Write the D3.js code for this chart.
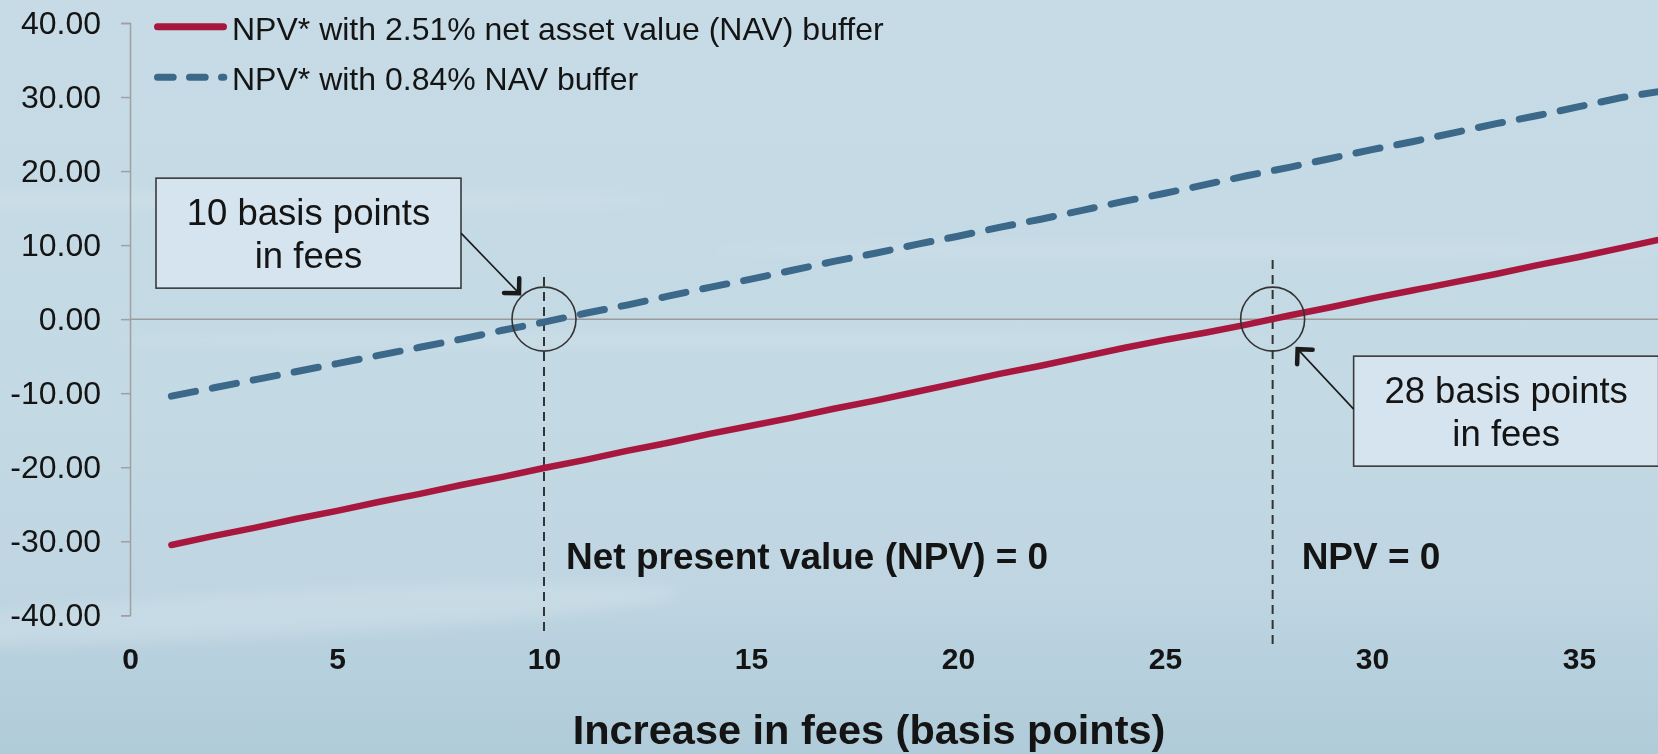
<!DOCTYPE html>
<html>
<head>
<meta charset="utf-8">
<script src="https://cdn.jsdelivr.net/npm/d3@7"></script>
<style>
body { margin: 0; overflow: hidden; }
svg { display: block; }
text { font-family: "Liberation Sans", Arial, sans-serif; fill: #141414; }
</style>
</head>
<body>
<svg width="1658" height="754"></svg>
<script>
// fee increase in basis points
var fees = [1, 2, 3, 4, 5, 6, 7, 8, 9, 10, 11, 12, 13, 14, 15, 16, 17, 18, 19,
    20, 21, 22, 23, 24, 25, 26, 27, 28, 29, 30, 31, 32, 33, 34, 35, 36, 37];

// NPV* with 2.51% NAV buffer
var npvHigh = [-30.5, -29.3, -28.2, -27.0, -25.9, -24.7, -23.6, -22.4, -21.3, -20.1,
    -19.0, -17.8, -16.7, -15.5, -14.4, -13.3, -12.1, -11.0, -9.8, -8.6,
    -7.4, -6.3, -5.1, -3.9, -2.8, -1.8, -0.7, 0.5, 1.6, 2.8,
    3.9, 5.0, 6.1, 7.3, 8.4, 9.6, 10.8];

// NPV* with 0.84% NAV buffer
var npvLow = [-10.4, -9.3, -8.2, -7.1, -6.0, -4.9, -3.8, -2.7, -1.5, -0.4,
    0.8, 1.9, 3.1, 4.3, 5.4, 6.6, 7.8, 8.9, 10.1, 11.2,
    12.4, 13.5, 14.7, 15.9, 17.0, 18.2, 19.4, 20.5, 21.7, 22.9,
    24.0, 25.2, 26.4, 27.5, 28.7, 29.9, 30.8];

var seriesNames = ['NPV* with 2.51% net asset value (NAV) buffer', 'NPV* with 0.84% NAV buffer'];
var xTicks = [0, 5, 10, 15, 20, 25, 30, 35];
var yTicks = [-40, -30, -20, -10, 0, 10, 20, 30, 40];
var breakEven = [10, 27.6];
var breakEvenLabels = ['Net present value (NPV) = 0', 'NPV = 0'];
var calloutText = [['10 basis points', 'in fees'], ['28 basis points', 'in fees']];

var svg = d3.select('svg');
var W = 1658, H = 754;

var x = d3.scaleLinear().domain([0, 40]).range([130, 1786]);
var y = d3.scaleLinear().domain([-40, 40]).range([615.3, 23]);

// background
var defs = svg.append('defs');
var grad = defs.append('linearGradient').attr('id', 'bg')
    .attr('x1', 0).attr('y1', 0).attr('x2', 0).attr('y2', 1);
grad.append('stop').attr('offset', '0%').attr('stop-color', '#c6dbe6');
grad.append('stop').attr('offset', '55%').attr('stop-color', '#c3d9e4');
grad.append('stop').attr('offset', '78%').attr('stop-color', '#bfd6e2');
grad.append('stop').attr('offset', '88%').attr('stop-color', '#b7d0dd');
grad.append('stop').attr('offset', '100%').attr('stop-color', '#b0cbd9');

defs.append('filter').attr('id', 'blur')
    .append('feGaussianBlur').attr('stdDeviation', 7);

svg.append('rect').attr('width', W).attr('height', H).attr('fill', 'url(#bg)');

var streaks = svg.append('g').attr('filter', 'url(#blur)');
streaks.append('ellipse').attr('cx', 250).attr('cy', 200).attr('rx', 420).attr('ry', 7)
    .attr('fill', '#ffffff').attr('opacity', 0.18);
streaks.append('ellipse').attr('cx', 700).attr('cy', 340).attr('rx', 600).attr('ry', 6)
    .attr('fill', '#ffffff').attr('opacity', 0.15);
streaks.append('ellipse').attr('cx', 260).attr('cy', 615).attr('rx', 420).attr('ry', 22)
    .attr('fill', '#ffffff').attr('opacity', 0.16)
    .attr('transform', 'rotate(-3 260 615)');
streaks.append('ellipse').attr('cx', 1200).attr('cy', 250).attr('rx', 500).attr('ry', 8)
    .attr('fill', '#ffffff').attr('opacity', 0.12);

// zero line
svg.append('line')
    .attr('x1', x(0)).attr('x2', W)
    .attr('y1', y(0)).attr('y2', y(0))
    .attr('stroke', '#9a9a9a').attr('stroke-width', 1.5);

// y axis
var yAxis = svg.append('g')
    .attr('transform', 'translate(' + x(0) + ',0)')
    .call(d3.axisLeft(y).tickValues(yTicks).tickSize(9).tickPadding(20)
        .tickFormat(function(d) { return d.toFixed(2); }));
yAxis.select('.domain').attr('stroke', '#a0a0a0').attr('stroke-width', 1.5);
yAxis.selectAll('.tick line').attr('stroke', '#a0a0a0').attr('stroke-width', 1.5);
yAxis.selectAll('.tick text')
    .style('font-family', '"Liberation Sans", Arial, sans-serif')
    .style('font-size', '32px').attr('fill', '#141414');

// x axis labels
var xAxis = svg.append('g')
    .attr('transform', 'translate(0,' + y(-40) + ')')
    .call(d3.axisBottom(x).tickValues(xTicks).tickSize(0));
xAxis.select('.domain').remove();
xAxis.selectAll('.tick text')
    .attr('y', 54).attr('dy', null)
    .style('font-family', '"Liberation Sans", Arial, sans-serif')
    .style('font-size', '30px').style('font-weight', 'bold').attr('fill', '#141414');

svg.append('text')
    .attr('x', 869).attr('y', 744)
    .attr('text-anchor', 'middle')
    .style('font-size', '41.5px').style('font-weight', 'bold')
    .text('Increase in fees (basis points)');

// vertical break-even lines
svg.selectAll('.be')
    .data(breakEven)
    .enter()
    .append('line')
    .attr('class', 'be')
    .attr('x1', function(d) { return x(d); })
    .attr('x2', function(d) { return x(d); })
    .attr('y1', function(d, i) { return i == 0 ? 277 : 260; })
    .attr('y2', function(d, i) { return i == 0 ? 633 : 650; })
    .attr('stroke', '#333333')
    .attr('stroke-width', 2)
    .attr('stroke-dasharray', '9,6');

svg.selectAll('.belabel')
    .data(breakEven)
    .enter()
    .append('text')
    .attr('class', 'belabel')
    .attr('x', function(d, i) { return x(d) + (i == 0 ? 22 : 29); })
    .attr('y', 569)
    .style('font-size', '37px').style('font-weight', 'bold')
    .text(function(d, i) { return breakEvenLabels[i]; });

// series lines
var line = d3.line()
    .x(function(d) { return x(d[0]); })
    .y(function(d) { return y(d[1]); });

svg.append('path')
    .datum(fees.map(function(f, i) { return [f, npvHigh[i]]; }))
    .attr('d', line)
    .attr('fill', 'none')
    .attr('stroke', '#a8173e')
    .attr('stroke-width', 6.5)
    .attr('stroke-linejoin', 'round')
    .attr('stroke-linecap', 'round');

svg.append('path')
    .datum(fees.map(function(f, i) { return [f, npvLow[i]]; }))
    .attr('d', line)
    .attr('fill', 'none')
    .attr('stroke', '#3c698a')
    .attr('stroke-width', 7)
    .attr('stroke-dasharray', '24.5,17.2')
    .attr('stroke-linecap', 'round');

// circles around the crossing points
svg.selectAll('.ring')
    .data(breakEven)
    .enter()
    .append('circle')
    .attr('class', 'ring')
    .attr('cx', function(d) { return x(d); })
    .attr('cy', y(0))
    .attr('r', 32)
    .attr('fill', 'none')
    .attr('stroke', '#333333')
    .attr('stroke-width', 1.6);

// callout boxes with arrows
var boxW = 305, boxH = 110;
var callouts = [
    { bx: x(breakEven[0]) - 388, by: y(0) - 141, from: [0, 55], tipDx: -25, tipDy: -26 },
    { bx: x(breakEven[1]) + 81, by: y(0) + 37, from: [-boxW, 53], tipDx: 25, tipDy: 30 }
];

callouts.forEach(function(c, i) {
    var g = svg.append('g');
    g.append('rect')
        .attr('x', c.bx).attr('y', c.by)
        .attr('width', boxW).attr('height', boxH)
        .attr('fill', '#d5e4ee')
        .attr('stroke', '#3a3a3a').attr('stroke-width', 1.6);
    calloutText[i].forEach(function(t, j) {
        g.append('text')
            .attr('x', c.bx + boxW / 2)
            .attr('y', c.by + 47 + j * 43)
            .attr('text-anchor', 'middle')
            .style('font-size', '36.5px')
            .text(t);
    });

    var sx = i == 0 ? c.bx + boxW : c.bx;
    var sy = c.by + c.from[1];
    var tx = x(breakEven[i]) + c.tipDx;
    var ty = y(0) + c.tipDy;
    g.append('line')
        .attr('x1', sx).attr('y1', sy)
        .attr('x2', tx).attr('y2', ty)
        .attr('stroke', '#1a1a1a').attr('stroke-width', 1.6);

    var ang = Math.atan2(sy - ty, sx - tx);
    var len = 15;
    var a1 = ang - Math.PI / 4, a2 = ang + Math.PI / 4;
    g.append('path')
        .attr('d', 'M' + (tx + len * Math.cos(a1)) + ',' + (ty + len * Math.sin(a1)) +
            'L' + tx + ',' + ty +
            'L' + (tx + len * Math.cos(a2)) + ',' + (ty + len * Math.sin(a2)))
        .attr('fill', 'none')
        .attr('stroke', '#1a1a1a')
        .attr('stroke-width', 4.5)
        .attr('stroke-linejoin', 'miter')
        .attr('stroke-linecap', 'round');
});

// legend
var legend = svg.append('g');
legend.append('line')
    .attr('x1', 157.5).attr('x2', 223.5).attr('y1', 26.7).attr('y2', 26.7)
    .attr('stroke', '#a8173e').attr('stroke-width', 7).attr('stroke-linecap', 'round');
legend.append('line')
    .attr('x1', 157.5).attr('x2', 223.8).attr('y1', 77.3).attr('y2', 77.3)
    .attr('stroke', '#3c698a').attr('stroke-width', 7).attr('stroke-linecap', 'round')
    .attr('stroke-dasharray', '15.7,16.3');
legend.selectAll('text')
    .data(seriesNames)
    .enter()
    .append('text')
    .attr('x', 232)
    .attr('y', function(d, i) { return i == 0 ? 40 : 90; })
    .style('font-size', '32px')
    .text(function(d) { return d; });
</script>
</body>
</html>
